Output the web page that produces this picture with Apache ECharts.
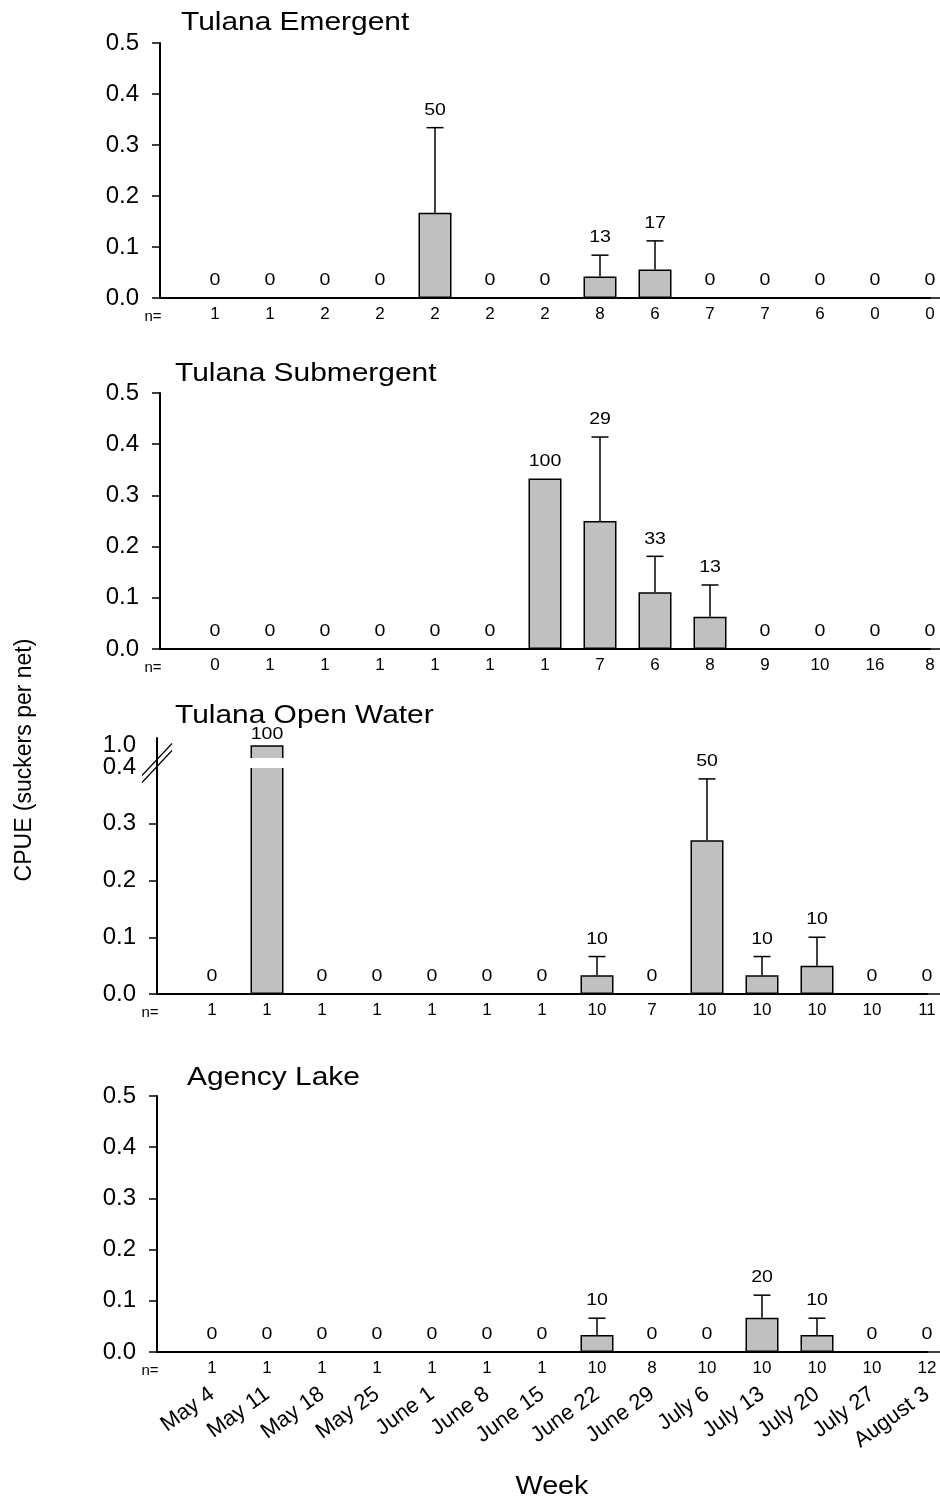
<!DOCTYPE html>
<html>
<head>
<meta charset="utf-8">
<script src="https://cdn.jsdelivr.net/npm/echarts@6/dist/echarts.min.js"></script>
<style>
  html, body { margin: 0; padding: 0; background: #fff; }
  #chart { width: 940px; height: 1501px; }
</style>
</head>
<body>
<div id="chart"></div>
<script>
// Sampling weeks
const weeks = ['May 4', 'May 11', 'May 18', 'May 25', 'June 1', 'June 8', 'June 15',
  'June 22', 'June 29', 'July 6', 'July 13', 'July 20', 'July 27', 'August 3'];

// Tulana Emergent
const emergentCpue = [0, 0, 0, 0, 0.167, 0, 0, 0.042, 0.056, 0, 0, 0, 0, 0];
const emergentSE   = [0, 0, 0, 0, 0.167, 0, 0, 0.042, 0.056, 0, 0, 0, 0, 0];
const emergentPct  = [0, 0, 0, 0, 50, 0, 0, 13, 17, 0, 0, 0, 0, 0];
const emergentN    = [1, 1, 2, 2, 2, 2, 2, 8, 6, 7, 7, 6, 0, 0];

// Tulana Submergent
const submergentCpue = [0, 0, 0, 0, 0, 0, 0.333, 0.25, 0.111, 0.063, 0, 0, 0, 0];
const submergentSE   = [0, 0, 0, 0, 0, 0, 0, 0.164, 0.07, 0.062, 0, 0, 0, 0];
const submergentPct  = [0, 0, 0, 0, 0, 0, 100, 29, 33, 13, 0, 0, 0, 0];
const submergentN    = [0, 1, 1, 1, 1, 1, 1, 7, 6, 8, 9, 10, 16, 8];

// Tulana Open Water
const openCpue = [0, 1.0, 0, 0, 0, 0, 0, 0.033, 0, 0.271, 0.033, 0.05, 0, 0];
const openSE   = [0, 0, 0, 0, 0, 0, 0, 0.033, 0, 0.108, 0.033, 0.05, 0, 0];
const openPct  = [0, 100, 0, 0, 0, 0, 0, 10, 0, 50, 10, 10, 0, 0];
const openN    = [1, 1, 1, 1, 1, 1, 1, 10, 7, 10, 10, 10, 10, 11];

// Agency Lake
const agencyCpue = [0, 0, 0, 0, 0, 0, 0, 0.033, 0, 0, 0.067, 0.033, 0, 0];
const agencySE   = [0, 0, 0, 0, 0, 0, 0, 0.033, 0, 0, 0.044, 0.033, 0, 0];
const agencyPct  = [0, 0, 0, 0, 0, 0, 0, 10, 0, 0, 20, 10, 0, 0];
const agencyN    = [1, 1, 1, 1, 1, 1, 1, 10, 8, 10, 10, 10, 10, 12];

const breakLow = 0.4;   // open-water axis is broken above this value
const breakHigh = 1.0;  // and resumes here

const FONT = "'Liberation Sans', Arial, Helvetica, sans-serif";
const WIDE = 1.15;      // horizontal stretch of the lettering
const categories = [''].concat(weeks);

// Panel layout (grid pixels)
const panels = [
  { title: 'Tulana Emergent',   cpue: emergentCpue,   se: emergentSE,   pct: emergentPct,   n: emergentN,
    left: 160, right: 10, top: 43, height: 255, titleX: 181, titleY: 23 },
  { title: 'Tulana Submergent', cpue: submergentCpue, se: submergentSE, pct: submergentPct, n: submergentN,
    left: 160, right: 10, top: 393, height: 256, titleX: 175, titleY: 374 },
  { title: 'Tulana Open Water', cpue: openCpue,       se: openSE,       pct: openPct,       n: openN,
    left: 157, right: 13, top: 767, height: 227, titleX: 175, titleY: 716, broken: true,
    upperTop: 738, upperHeight: 21 },
  { title: 'Agency Lake',       cpue: agencyCpue,     se: agencySE,     pct: agencyPct,     n: agencyN,
    left: 157, right: 13, top: 1096, height: 256, titleX: 187, titleY: 1078, dates: true }
];

const black = '#000';
const barFill = '#c0c0c0';
const BAR_W = 33;

// Upper error whisker with cap, plus the percentage label above it
function errorBarRenderer(gap, gapBottom) {
  return function (params, api) {
    const x = api.value(0), v = api.value(1), e = api.value(2), lab = api.value(3);
    const base = api.coord([x, v]);
    const top = api.coord([x, v + e]);
    const children = [];
    if (gapBottom != null) {
      // white strip cutting the bar where the axis is broken
      const cs = params.coordSys;
      const y0 = cs.y + cs.height - 1;
      children.push({ type: 'rect', shape: { x: base[0] - BAR_W / 2 - 2, y: y0, width: BAR_W + 4, height: gapBottom - y0 + 1 },
        style: { fill: '#fff' } });
    }
    if (e > 0) {
      children.push({ type: 'line', shape: { x1: base[0], y1: base[1], x2: top[0], y2: top[1] },
        style: { stroke: black, lineWidth: 1.5 } });
      children.push({ type: 'line', shape: { x1: top[0] - 8.5, y1: top[1], x2: top[0] + 8.5, y2: top[1] },
        style: { stroke: black, lineWidth: 1.5 } });
    }
    children.push({ type: 'text', x: top[0], y: top[1] - gap, scaleX: WIDE,
      style: { text: String(lab), x: 0, y: 0, align: 'center', verticalAlign: 'bottom',
        fontSize: 17, fontFamily: FONT, fill: black } });
    return { type: 'group', children };
  };
}

const grids = [], xAxes = [], yAxes = [], series = [], graphics = [];

function yAxisBase(gridIndex) {
  return {
    type: 'value', gridIndex,
    axisLine: { show: true, lineStyle: { color: black, width: 2 } },
    axisTick: { show: true, inside: false, length: 8, lineStyle: { color: black, width: 1.5 } },
    axisLabel: { color: black, fontSize: 24, fontFamily: FONT, margin: 21,
      formatter: v => v.toFixed(1) },
    splitLine: { show: false }
  };
}

function xAxisN(gridIndex, nArr, show) {
  return {
    type: 'category', gridIndex, data: categories, boundaryGap: false,
    axisLine: { show: show, onZero: false, lineStyle: { color: black, width: 2 } },
    axisTick: { show: false },
    axisLabel: {
      show: show, interval: 0, margin: 8, color: black, fontSize: 17, fontFamily: FONT,
      formatter: (v, i) => i === 0 ? '{nn|n=}' : String(nArr[i - 1]),
      rich: { nn: { fontSize: 15, fontFamily: FONT, color: black, padding: [3, 14, 0, 0] } }
    },
    splitLine: { show: false }
  };
}

panels.forEach(p => {
  const g = grids.length;
  grids.push({ left: p.left, right: p.right, top: p.top, height: p.height, containLabel: false,
    outerBoundsMode: 'none' });
  xAxes.push(xAxisN(g, p.n, true));
  const ya = yAxisBase(g);
  if (p.broken) {
    ya.min = 0; ya.max = breakLow; ya.interval = 0.1;
    ya.axisTick.customValues = [0, 0.1, 0.2, 0.3];
  } else {
    ya.min = 0; ya.max = 0.5; ya.interval = 0.1;
  }
  yAxes.push(ya);

  const items = p.cpue.map((v, i) => [i + 1, v, p.se[i], p.pct[i]]);
  series.push({
    type: 'bar', xAxisIndex: g, yAxisIndex: g, barWidth: BAR_W, clip: true,
    data: p.cpue.map((v, i) => [i + 1, v]),
    itemStyle: { color: barFill, borderColor: black, borderWidth: 1.5 },
    emphasis: { disabled: true }, silent: true, z: 2
  });
  series.push({
    type: 'custom', xAxisIndex: g, yAxisIndex: g, silent: true, z: 3,
    renderItem: errorBarRenderer(9),
    data: items.filter(d => !p.broken || d[1] <= breakLow)
  });

  if (p.broken) {
    // upper segment of the broken axis
    const gu = grids.length;
    grids.push({ left: p.left, right: p.right, top: p.upperTop, height: p.upperHeight,
      containLabel: false, outerBoundsMode: 'none' });
    xAxes.push(xAxisN(gu, p.n, false));
    const yu = yAxisBase(gu);
    yu.min = 0.975; yu.max = 1.013;
    yu.axisTick = { show: false };
    yu.axisLabel.customValues = [breakHigh];
    yAxes.push(yu);
    series.push({
      type: 'bar', xAxisIndex: gu, yAxisIndex: gu, barWidth: BAR_W, clip: true,
      data: p.cpue.map((v, i) => [i + 1, v > breakLow ? v : null]),
      itemStyle: { color: barFill, borderColor: black, borderWidth: 1.5 },
      emphasis: { disabled: true }, silent: true, z: 2
    });
    series.push({
      type: 'custom', xAxisIndex: gu, yAxisIndex: gu, silent: true, z: 4, clip: false,
      renderItem: errorBarRenderer(2, p.top),
      data: items.filter(d => d[1] > breakLow)
    });

    // axis break symbol
    const ax = p.left, ym = (p.upperTop + p.upperHeight + p.top) / 2;
    graphics.push({ type: 'line', shape: { x1: ax, y1: p.upperTop + p.upperHeight, x2: ax, y2: p.top },
      style: { stroke: black, lineWidth: 2 } });
    [-3.5, 3.5].forEach(d => {
      graphics.push({ type: 'line',
        shape: { x1: ax - 15, y1: ym + d + 16, x2: ax + 15, y2: ym + d - 16 },
        style: { stroke: black, lineWidth: 1.2 } });
    });
  }

  if (p.dates) {
    xAxes.push({
      type: 'category', gridIndex: g, data: categories, boundaryGap: false, position: 'bottom',
      axisLine: { show: false }, axisTick: { show: false }, splitLine: { show: false },
      axisLabel: { interval: 0, rotate: 36, margin: 40, color: black, fontSize: 22, fontFamily: FONT }
    });
  }

  graphics.push({ type: 'text', x: p.titleX, y: p.titleY, scaleX: WIDE,
    style: { text: p.title, align: 'left', verticalAlign: 'middle', fontSize: 26, fontFamily: FONT, fill: black } });
});

graphics.push({ type: 'text', x: 25, y: 760, rotation: Math.PI / 2,
  style: { text: 'CPUE (suckers per net)', align: 'center', verticalAlign: 'middle',
    fontSize: 23, fontFamily: FONT, fill: black } });
graphics.push({ type: 'text', x: 552, y: 1487, scaleX: WIDE,
  style: { text: 'Week', align: 'center', verticalAlign: 'middle', fontSize: 25, fontFamily: FONT, fill: black } });

const chart = echarts.init(document.getElementById('chart'), null, { renderer: 'canvas' });
chart.setOption({
  backgroundColor: '#fff',
  animation: false,
  textStyle: { fontFamily: FONT },
  grid: grids,
  xAxis: xAxes,
  yAxis: yAxes,
  series: series,
  graphic: graphics
});
</script>
</body>
</html>
